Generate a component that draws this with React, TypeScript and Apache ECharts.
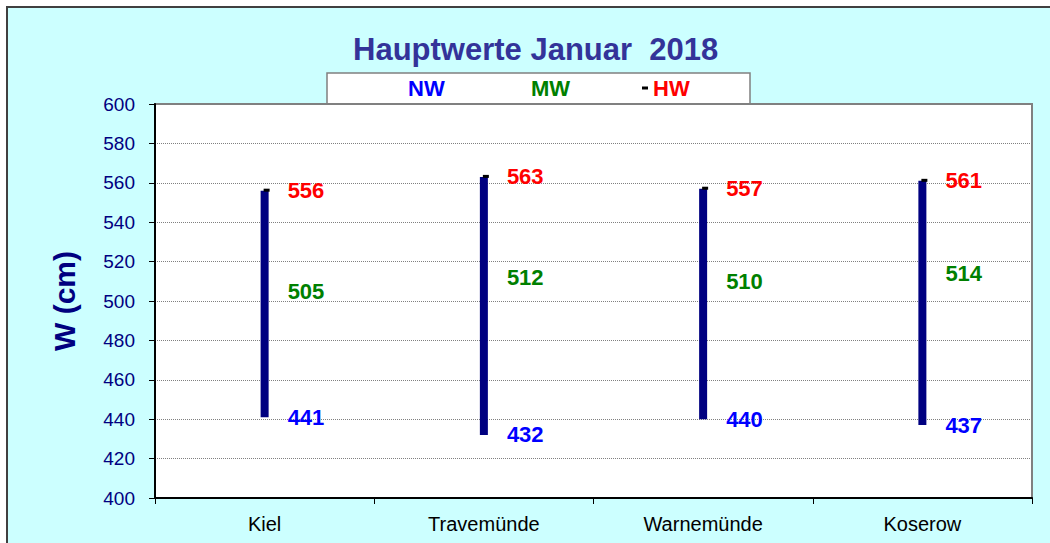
import React, { useEffect, useRef } from "react";
import * as echarts from "echarts";

const categories = ["Kiel", "Travemünde", "Warnemünde", "Koserow"];
const nwValues = [441, 432, 440, 437];
const mwValues = [505, 512, 510, 514];
const hwValues = [556, 563, 557, 561];
const yTicks = { min: 400, max: 600, interval: 20 };

export default function App() {
  const ref = useRef<HTMLDivElement>(null);
  useEffect(() => {
    const chart = echarts.init(ref.current!, null, { renderer: "svg" });
    const labelFont = { fontFamily: "Liberation Sans, Arial, sans-serif", fontWeight: "bold" as const, fontSize: 22 };
    const mkLabelSeries = (name: string, data: number[], color: string) => ({
      name,
      type: "scatter",
      data,
      symbolSize: 0,
      itemStyle: { color, opacity: 1 },
      label: {
        show: true,
        position: "right",
        distance: 23,
        formatter: (p: any) => String(p.value),
        color,
        opacity: 1,
        ...labelFont,
      },
      emphasis: { disabled: true },
      z: 5,
    });
    chart.setOption({
      animation: false,
      backgroundColor: "#ffffff",
      textStyle: { fontFamily: "Liberation Sans, Arial, sans-serif" },
      graphic: [
        {
          type: "rect",
          z: -100,
          shape: { x: 7, y: 7, width: 1100, height: 600 },
          style: { fill: "#ccffff", stroke: "#404040", lineWidth: 2 },
        },
        {
          type: "rect",
          z: -50,
          shape: { x: 327, y: 73, width: 423, height: 31 },
          style: { fill: "#ffffff", stroke: "#808080", lineWidth: 1.5 },
        },
      ],
      title: {
        text: "Hauptwerte Januar  2018",
        left: 353,
        top: 34,
        padding: 0,
        textStyle: { color: "#333399", fontSize: 31, fontWeight: "bold", fontFamily: "Liberation Sans, Arial, sans-serif" },
      },
      legend: [
        {
          data: [{ name: "NW", icon: "rect", itemStyle: { opacity: 0 } }],
          left: 403,
          top: 76,
          padding: 0,
          itemWidth: 0,
          itemHeight: 0,
          selectedMode: false,
          textStyle: { color: "#0000ff", ...labelFont, lineHeight: 24 },
        },
        {
          data: [{ name: "MW", icon: "rect", itemStyle: { opacity: 0 } }],
          left: 526,
          top: 76,
          padding: 0,
          itemWidth: 0,
          itemHeight: 0,
          selectedMode: false,
          textStyle: { color: "#008000", ...labelFont, lineHeight: 24 },
        },
        {
          data: [{ name: "HW", icon: "rect", itemStyle: { color: "#000000" } }],
          left: 642,
          top: 76,
          padding: 0,
          itemWidth: 6,
          itemHeight: 3,
          selectedMode: false,
          textStyle: { color: "#ff0000", ...labelFont, lineHeight: 24 },
        },
      ],
      grid: {
        left: 155,
        right: 18,
        top: 104,
        bottom: 45,
        show: true,
        backgroundColor: "#ffffff",
        borderColor: "#808080",
        borderWidth: 2,
      },
      xAxis: {
        type: "category",
        data: categories,
        axisLine: { lineStyle: { color: "#000000", width: 2 } },
        axisTick: { show: true, length: 6, lineStyle: { color: "#000000" } },
        axisLabel: { color: "#000000", fontSize: 20, margin: 16 },
      },
      yAxis: {
        type: "value",
        min: yTicks.min,
        max: yTicks.max,
        interval: yTicks.interval,
        name: "W (cm)",
        nameLocation: "middle",
        nameRotate: 90,
        nameGap: 76,
        nameTextStyle: { color: "#000080", fontSize: 30, fontWeight: "bold" },
        axisLine: { show: true, lineStyle: { color: "#000000", width: 2 } },
        axisTick: { show: true, length: 6, lineStyle: { color: "#000000" } },
        axisLabel: { color: "#000080", fontSize: 19, margin: 20 },
        splitLine: { show: true, lineStyle: { color: "#808080", type: "dotted", width: 1 } },
      },
      series: [
        {
          name: "range",
          type: "custom",
          data: categories.map((_, i) => [i, nwValues[i], hwValues[i]]),
          renderItem: (params: any, api: any) => {
            const x = api.value(0);
            const lo = api.coord([x, api.value(1)]);
            const hi = api.coord([x, api.value(2)]);
            return {
              type: "group",
              children: [
                {
                  type: "rect",
                  shape: { x: lo[0] - 4, y: hi[1], width: 8, height: lo[1] - hi[1] },
                  style: { fill: "#000080" },
                },
                {
                  type: "rect",
                  shape: { x: hi[0] - 1, y: hi[1] - 2, width: 6, height: 3 },
                  style: { fill: "#000000" },
                },
              ],
            };
          },
          z: 3,
        },
        mkLabelSeries("NW", nwValues, "#0000ff"),
        mkLabelSeries("MW", mwValues, "#008000"),
        mkLabelSeries("HW", hwValues, "#ff0000"),
      ],
    });
    return () => chart.dispose();
  }, []);
  return <div ref={ref} style={{ position: "fixed", left: 0, top: 0, width: 1050, height: 543 }} />;
}
